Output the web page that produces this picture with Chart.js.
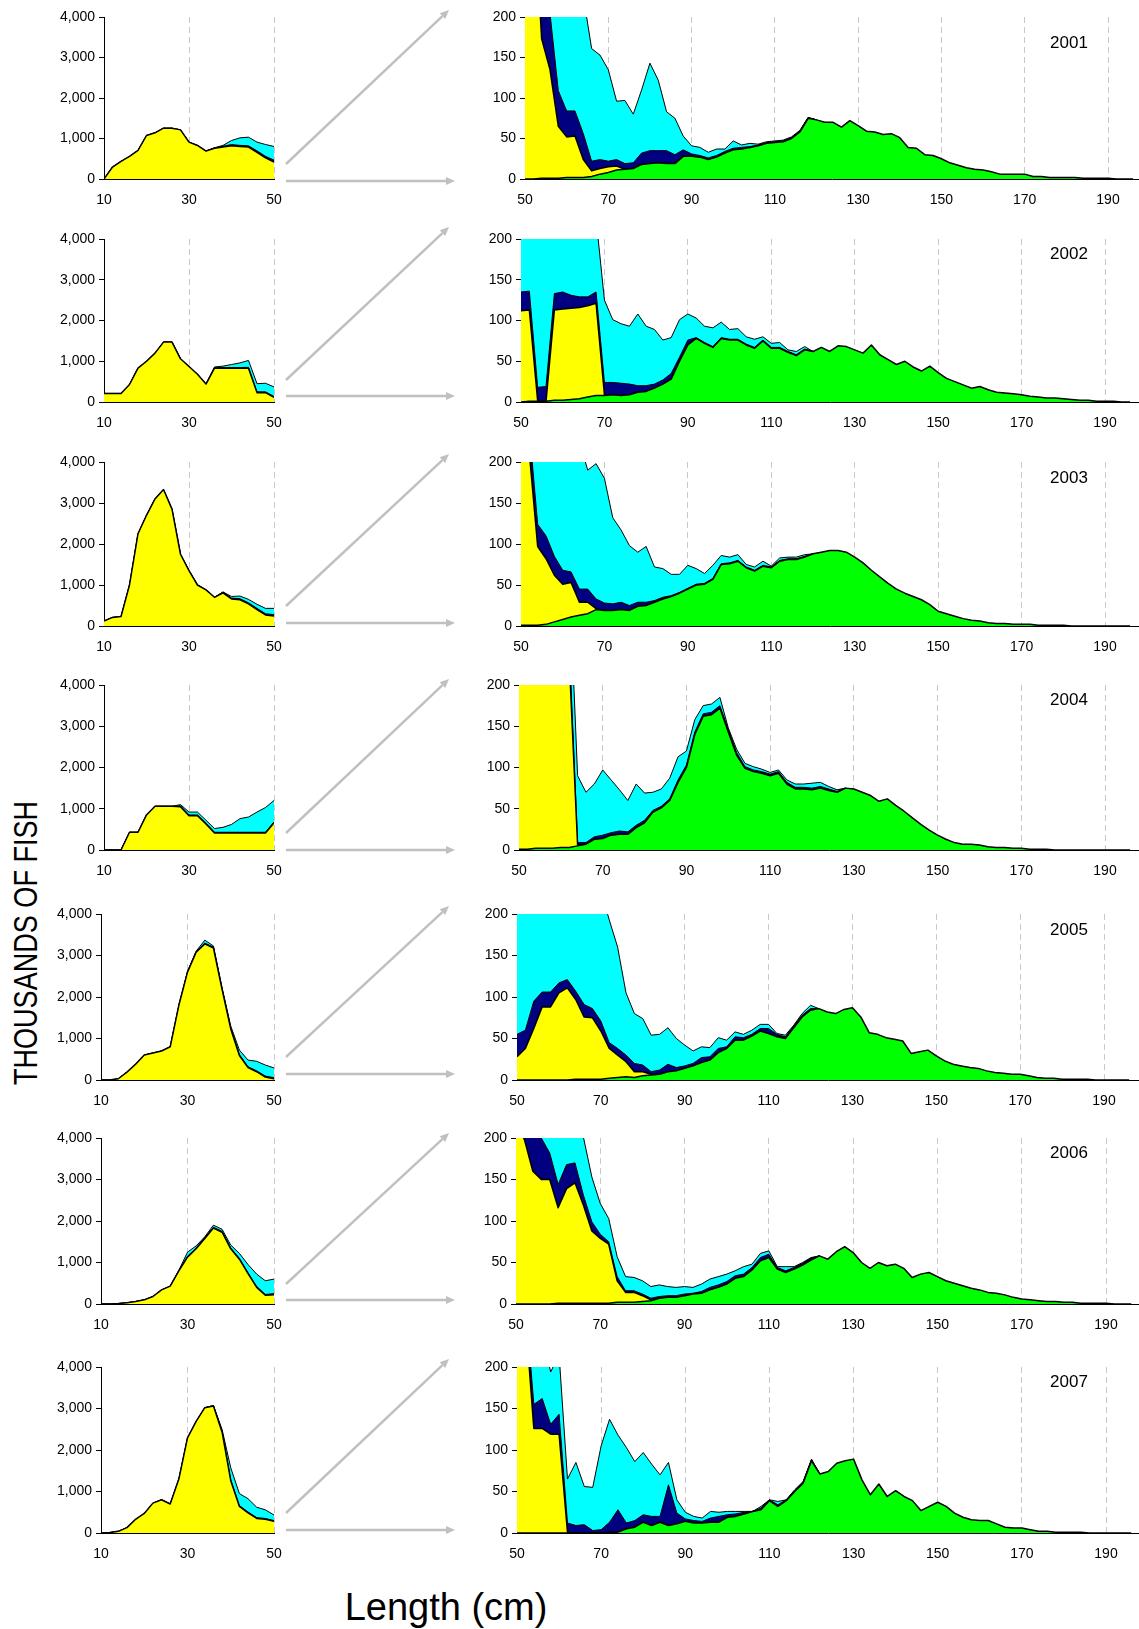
<!DOCTYPE html>
<html>
<head>
<meta charset="utf-8">
<title>Length frequency 2001-2007</title>
<script src="https://cdn.jsdelivr.net/npm/chart.js@4.4.1/dist/chart.umd.min.js"></script>
<style>
  body { margin: 0; background: #fff; }
  #page { position: relative; width: 1139px; height: 1629px; overflow: hidden; background: #fff;
          font-family: "Liberation Sans", Arial, sans-serif; color: #000; }
  #page canvas { position: absolute; }
  #arrows { position: absolute; left: 0; top: 0; }
  .year { position: absolute; font-size: 17px; line-height: 1; transform: translate(-50%, -50%); }
  #ytitle { position: absolute; left: 25px; top: 943px; font-size: 33px; line-height: 1; white-space: nowrap;
            transform: translate(-50%, -50%) rotate(-90deg) scaleX(0.82); }
  #xtitle { position: absolute; left: 446px; top: 1588px; font-size: 38px; line-height: 1; white-space: nowrap;
            transform: translateX(-50%); }
</style>
</head>
<body>
<div id="page">
  <svg id="arrows" width="1139" height="1629"></svg>
  <div id="ytitle">THOUSANDS OF FISH</div>
  <div id="xtitle">Length (cm)</div>
</div>
<script>
// ---- categories and ticks ----
const years = ['2001', '2002', '2003', '2004', '2005', '2006', '2007'];
const lenLeft = [10,12,14,16,18,20,22,24,26,28,30,32,34,36,38,40,42,44,46,48,50];
const lenRight = [50,52,54,56,58,60,62,64,66,68,70,72,74,76,78,80,82,84,86,88,
                  90,92,94,96,98,100,102,104,106,108,110,112,114,116,118,120,122,124,126,128,
                  130,132,134,136,138,140,142,144,146,148,150,152,154,156,158,160,162,164,166,168,
                  170,172,174,176,178,180,182,184,186,188,190,192,194,196];
const leftXTicks = [10, 30, 50];
const leftYTicks = [0, 1000, 2000, 3000, 4000];
const rightXTicks = [50, 70, 90, 110, 130, 150, 170, 190];
const rightYTicks = [0, 50, 100, 150, 200];

// ---- small fish, 10-50 cm (thousands) ----
const l01Yellow = [0,295,435,557,705,1074,1140,1254,1254,1213,910,828,690,760,790,820,800,790,660,520,420];
const l01Navy   = [0,0,0,0,0,0,0,0,0,0,0,0,0,10,20,30,30,30,35,40,45];
const l01Cyan   = [0,0,0,0,0,0,0,0,0,0,0,0,0,0,20,100,186,213,215,292,338];

const l02Yellow = [210,210,210,430,830,1000,1200,1470,1470,1060,870,680,440,830,830,830,830,830,230,230,112];
const l02Navy   = [0,0,0,0,0,0,0,0,0,0,0,0,0,10,15,15,15,20,20,20,23];
const l02Cyan   = [0,0,0,0,0,0,0,0,0,0,0,0,0,20,35,75,115,170,200,210,235];

const l03Yellow = [120,210,230,1000,2250,2700,3100,3330,2850,1750,1350,1000,880,700,810,660,640,540,400,270,245];
const l03Navy   = [0,0,0,0,0,0,0,0,0,0,0,0,0,0,20,20,25,25,30,30,30];
const l03Cyan   = [0,0,0,0,0,0,0,0,0,0,0,0,0,0,0,40,65,85,100,130,155];

const l04Yellow = [0,0,0,430,430,850,1060,1060,1060,1050,830,830,630,410,410,410,410,410,410,410,660];
const l04Navy   = [0,0,0,0,0,0,0,0,0,20,20,20,20,20,20,20,20,20,20,20,20];
const l04Cyan   = [0,0,0,0,0,0,0,0,0,30,70,70,70,90,120,190,330,370,490,600,520];

const l05Yellow = [0,0,30,190,380,600,650,700,800,1800,2600,3080,3280,3180,2180,1230,590,300,200,70,28];
const l05Navy   = [0,0,0,0,0,0,0,0,0,0,10,15,20,20,20,20,20,20,20,25,27];
const l05Cyan   = [0,0,0,0,0,0,0,0,0,0,0,10,70,30,20,50,110,160,230,265,235];

const l06Yellow = [0,0,10,30,60,100,180,340,430,800,1130,1330,1580,1830,1730,1330,1080,730,400,210,220];
const l06Navy   = [0,0,0,0,0,0,0,0,0,10,20,20,20,20,20,20,20,20,20,20,30];
const l06Cyan   = [0,0,0,0,0,0,0,0,0,0,100,50,20,50,50,70,120,200,300,330,350];

const l07Yellow = [0,10,40,130,330,470,720,800,700,1300,2290,2690,3020,3060,2430,1260,640,486,351,330,280];
const l07Navy   = [0,0,0,0,0,0,0,0,0,0,0,0,0,10,15,20,20,20,20,20,20];
const l07Cyan   = [0,0,0,0,0,0,0,0,0,0,0,0,0,0,50,290,290,320,250,208,134];

// ---- large fish, from 50 cm (thousands) ----
const r01Green  = [0,0,1,1,1,2,2,2,3,6, 8,11,12,13,18,19,20,19,19,28, 28,27,24,27,32,36,37,39,41,44,
                   45,46,50,58,75,73,70,70,64,72, 66,59,58,55,56,51,39,38,30,29, 25,20,17,14,12,11,9,6,6,6,
                   6,3,3,2,2,2,2,1,1,1, 1,0,0,0];
const r01Yellow = [420,352,172,134,64,50,51,22,7,7, 7,5,0,0,0,0,0,0,0,0, 0,0,0,0,0,0,0,0,0,0, 0,0,0,0,0,0];
const r01Navy   = [45,48,87,70,44,32,31,32,12,11, 7,8,7,7,14,16,15,16,11,8, 3,2,2,2,2,2,2,1,1,1, 1,1,1,1,1,0];
const r01Cyan   = [338,300,340,295,310,276,206,170,139,129, 113,72,78,60,78,108,87,48,45,17,
                   10,10,7,8,3,9,3,4,1,1, 1,1,1,1,0,0];

const r02Green  = [0,1,1,1,2,2,3,4,6,8, 8,9,8,9,12,13,17,22,28,50, 70,78,72,67,78,76,76,70,66,75,
                   66,66,61,57,64,62,67,62,69,68, 64,60,70,58,52,46,50,43,38,44, 36,29,25,21,17,19,15,12,11,10,
                   9,7,6,5,5,4,3,2,2,1, 1,1,0,0];
const r02Yellow = [112,112,0,0,111,112,112,112,112,113, 1,0,0,0,0,0,0,0,0,0, 0,0,0,0,0,0,0,0,0,0, 0,0,0,0,0,0];
const r02Navy   = [23,23,17,18,20,21,16,13,11,14, 15,15,15,13,8,7,5,5,7,5, 6,1,1,1,1,1,1,1,1,1, 1,1,1,1,1,0];
const r02Cyan   = [235,214,312,291,157,145,129,121,111,90, 101,77,73,71,88,73,67,49,44,46,
                   32,24,20,23,19,12,13,9,10,4, 5,6,2,4,3,0];

const r03Green  = [1,1,1,2,5,8,11,13,15,20, 19,19,20,19,24,25,29,33,36,40, 45,50,51,57,75,76,79,71,67,73,
                   71,79,81,81,84,88,90,92,92,90, 84,77,68,60,52,45,40,36,32,26, 18,15,12,9,7,6,4,3,3,2,
                   2,2,1,1,1,1,0,0,0,0, 0,0,0,0];
const r03Yellow = [244,210,96,80,57,43,42,16,14,1, 0,0,0,0,0,0,0,0,0,0, 0,0,0,0,0,0,0,0,0,0, 0,0,0,0,0,0];
const r03Navy   = [30,29,27,28,23,17,13,16,16,12, 9,8,9,6,5,4,2,2,1,1, 1,1,1,1,1,1,1,1,1,1, 1,1,1,1,1,0];
const r03Cyan   = [155,160,246,230,225,212,184,180,145,165, 152,105,88,73,61,68,41,35,26,22,
                   28,19,12,16,10,7,7,3,4,5, 1,3,2,2,2,0];

const r04Green  = [1,1,2,2,2,3,3,5,7,13, 14,18,19,19,27,33,46,51,60,82, 100,140,162,164,172,143,115,99,95,93,
                   90,93,80,74,74,73,75,72,70,75, 74,70,66,59,62,54,47,39,31,24, 18,13,9,7,7,6,4,3,3,2,
                   2,1,1,1,0,0,0,0,0,0, 0,0,0,0];
const r04Yellow = [660,600,500,450,400,330,228,1,0,0, 0,0,0,0,0,0,0,0,0,0, 0,0,0,0,0,0,0,0,0,0, 0,0,0,0,0,0,0,0,0,0];
const r04Navy   = [20,20,20,20,20,20,20,3,2,3, 4,3,4,3,3,3,2,2,2,3, 3,3,3,3,3,3,3,2,2,2, 2,2,2,2,2,2,2,2,1,0];
const r04Cyan   = [520,480,400,350,300,250,83,81,61,64, 79,64,50,38,50,33,22,21,25,28,
                   17,15,10,10,10,2,4,4,4,3, 2,2,3,4,4,6,5,3,2,0];

const r05Green  = [0,0,0,0,0,0,0,1,1,1, 1,2,3,4,3,5,6,7,10,11, 14,17,21,24,33,38,48,48,53,59,
                   56,52,50,63,76,84,86,82,80,85, 87,76,57,55,51,49,47,32,34,36, 29,23,19,17,15,14,11,9,8,7,
                   7,5,3,2,2,1,1,1,1,0, 0,0,0,0];
const r05Yellow = [28,38,62,88,88,105,111,96,75,74, 58,36,27,18,7,5,1,0,0,0, 0,0,0,0,0,0,0,0,0,0, 0,0,0,0,0,0,0];
const r05Navy   = [27,22,33,18,18,12,10,10,15,11, 12,7,8,8,10,8,3,5,9,4, 3,3,6,4,5,2,4,3,2,3, 6,3,2,2,2,2,0];
const r05Cyan   = [235,240,225,224,214,193,179,174,170,160, 157,148,122,75,60,56,44,43,44,35,
                   25,15,13,11,13,8,6,4,5,5, 5,1,2,1,2,4,0];

const r06Green  = [0,0,0,0,0,1,1,1,1,1, 1,1,2,2,2,3,4,7,8,8, 10,12,13,17,20,24,31,33,41,52,
                   56,42,38,42,47,53,58,54,63,69, 62,50,43,50,46,48,43,32,36,38, 33,28,25,22,19,17,14,13,11,8,
                   6,5,4,3,3,2,2,1,1,1, 1,0,0,0];
const r06Yellow = [220,198,160,150,150,115,138,145,118,87, 78,71,26,12,12,7,1,0,0,0, 0,0,0,0,0,0,0,0,0,0, 0,0,0,0,0,0,0];
const r06Navy   = [30,32,55,50,32,28,29,24,12,11, 5,3,5,2,2,2,2,2,2,2, 2,1,2,3,3,3,3,3,3,4, 4,2,2,2,2,2,0];
const r06Cyan   = [350,270,185,130,118,137,93,71,70,54, 37,28,24,17,16,16,14,14,11,10,
                   9,7,9,10,10,9,6,9,4,5, 4,1,5,1,1,1,0];

const r07Green  = [0,0,0,0,0,0,0,0,0,0, 0,1,1,5,7,13,9,13,9,11, 14,12,12,13,13,19,20,23,26,28,
                   39,32,39,50,60,87,71,74,84,87, 89,64,46,59,44,51,44,39,27,32, 37,32,24,19,16,15,15,11,7,6,
                   6,4,2,2,1,1,1,1,0,0, 0,0,0,0];
const r07Yellow = [280,261,126,126,119,119,1,0,0,0, 0,0,0,0,0,0,0,0,0,0, 0,0,0,0,0,0,0,0,0,0, 0,0,0,0,0,0,0];
const r07Navy   = [20,19,29,36,12,24,11,9,10,3, 4,12,27,7,8,9,11,7,49,13, 3,3,2,5,7,3,3,2,0,2, 1,2,1,1,1,1,0];
const r07Cyan   = [134,70,105,78,63,72,53,76,46,52, 101,124,90,91,71,75,63,50,27,16,
                   8,5,4,8,5,4,3,1,0,2, 0,4,0,1,1,1,0];

const leftSeries = [
  [l01Yellow, l01Navy, l01Cyan], [l02Yellow, l02Navy, l02Cyan], [l03Yellow, l03Navy, l03Cyan],
  [l04Yellow, l04Navy, l04Cyan], [l05Yellow, l05Navy, l05Cyan], [l06Yellow, l06Navy, l06Cyan],
  [l07Yellow, l07Navy, l07Cyan]
];
const rightSeries = [
  [r01Green, r01Yellow, r01Navy, r01Cyan], [r02Green, r02Yellow, r02Navy, r02Cyan],
  [r03Green, r03Yellow, r03Navy, r03Cyan], [r04Green, r04Yellow, r04Navy, r04Cyan],
  [r05Green, r05Yellow, r05Navy, r05Cyan], [r06Green, r06Yellow, r06Navy, r06Cyan],
  [r07Green, r07Yellow, r07Navy, r07Cyan]
];

// ---- page layout (pixels) ----
const rowTop = [17, 239, 462, 685, 914, 1138, 1367];
const rowH = [162, 163, 164, 165, 166, 166, 166];
const leftAxisX = [104, 104, 104, 104, 101, 101, 101];
const rightAxisX = [525, 521, 521, 519, 517, 516, 517];   // where 50 cm sits
const right190X = [1108, 1105, 1105, 1105, 1104, 1106, 1106];
const yearDy = [25, 14, 15, 14, 15, 14, 14];
const diagStartDy = [-15, -22, -20, -17, -23, -20, -20];  // from the zero line
const diagEndDy = [-7, -12, -8, -6, -8, -5, -8];          // from the top line
const flatDy = [2, -6, -3, 0, -6, -4, -3];                // from the zero line

const fillColor = { green: '#00ff00', yellow: '#ffff00', navy: '#000080', cyan: '#00ffff' };
const tickFont = { family: '"Liberation Sans", Arial, sans-serif', size: 14 };

function areaSets(xs, series, colors, widths) {
  return series.map((vals, i) => ({
    data: vals.map((v, k) => ({ x: xs[k], y: v })),
    backgroundColor: fillColor[colors[i]],
    borderColor: '#000',
    borderWidth: widths[i],
    borderJoinStyle: 'round',
    fill: i === 0 ? 'origin' : '-1',
    pointRadius: 0,
    tension: 0
  }));
}

function drawPanel(canvas, p) {
  return new Chart(canvas, {
    type: 'line',
    data: { datasets: p.datasets },
    options: {
      responsive: false,
      animation: false,
      devicePixelRatio: 1,
      layout: { autoPadding: false, padding: { top: 16, right: p.padRight, bottom: 0, left: 0 } },
      plugins: { legend: { display: false }, tooltip: { enabled: false } },
      scales: {
        x: {
          type: 'linear', min: p.xMin, max: p.xMax,
          afterBuildTicks: s => { s.ticks = p.xTicks.map(v => ({ value: v })); },
          afterFit: s => { s.height = 30; },
          grid: {
            drawTicks: false, lineWidth: 1,
            color: c => (c.tick && c.tick.value > p.xMin) ? '#c8c8c8' : 'rgba(0,0,0,0)'
          },
          border: { color: '#000', width: 1, dash: [6, 4] },
          ticks: { font: tickFont, color: '#000', padding: 13, autoSkip: false, maxRotation: 0,
                   callback: v => String(v) }
        },
        y: {
          type: 'linear', stacked: true, min: 0, max: p.yMax,
          afterBuildTicks: s => { s.ticks = p.yTicks.map(v => ({ value: v })); },
          afterFit: s => { s.width = p.yWidth; },
          grid: { drawOnChartArea: false, color: '#000', tickLength: 5 },
          border: { color: '#000', width: 1 },
          ticks: { font: tickFont, color: '#000', padding: 4, autoSkip: false,
                   callback: v => v.toLocaleString('en-US') }
        }
      }
    }
  });
}

const page = document.getElementById('page');
const svg = document.getElementById('arrows');
const NS = 'http://www.w3.org/2000/svg';

function arrow(x1, y1, x2, y2) {
  const a = Math.atan2(y2 - y1, x2 - x1);
  const hl = 9, hw = 4;
  const bx = x2 - hl * Math.cos(a), by = y2 - hl * Math.sin(a);
  const ln = document.createElementNS(NS, 'line');
  ln.setAttribute('x1', x1); ln.setAttribute('y1', y1);
  ln.setAttribute('x2', bx); ln.setAttribute('y2', by);
  ln.setAttribute('stroke', '#c0c0c0'); ln.setAttribute('stroke-width', '2.5');
  svg.appendChild(ln);
  const head = document.createElementNS(NS, 'polygon');
  const pts = [[x2, y2],
               [bx + hw * Math.sin(a), by - hw * Math.cos(a)],
               [bx - hw * Math.sin(a), by + hw * Math.cos(a)]];
  head.setAttribute('points', pts.map(q => q.join(',')).join(' '));
  head.setAttribute('fill', '#c0c0c0');
  svg.appendChild(head);
}

function makeCanvas(left, top, w, h) {
  const c = document.createElement('canvas');
  c.width = w; c.height = h;
  c.style.left = left + 'px'; c.style.top = top + 'px';
  c.style.width = w + 'px'; c.style.height = h + 'px';
  page.appendChild(c);
  return c;
}

years.forEach((yr, r) => {
  const T = rowTop[r], H = rowH[r], Z = T + H;

  // left panel: plot ends at x = 274 (canvas 296 wide, 22 px right pad)
  const lc = makeCanvas(0, T - 16, 296, H + 46);
  drawPanel(lc, {
    datasets: areaSets(lenLeft, leftSeries[r], ['yellow', 'navy', 'cyan'], [1.5, 1, 1]),
    xMin: 10, xMax: 50, xTicks: leftXTicks,
    yMax: 4000, yTicks: leftYTicks,
    yWidth: leftAxisX[r], padRight: 22
  });

  const pxPerCm = (right190X[r] - rightAxisX[r]) / 140;
  const rc = makeCanvas(440, T - 16, 699, H + 46);
  drawPanel(rc, {
    datasets: areaSets(lenRight, rightSeries[r], ['green', 'yellow', 'navy', 'cyan'], [1.5, 1.5, 1, 1]),
    xMin: 50, xMax: 50 + (1139 - rightAxisX[r]) / pxPerCm, xTicks: rightXTicks,
    yMax: 200, yTicks: rightYTicks,
    yWidth: rightAxisX[r] - 440, padRight: 0
  });

  const lab = document.createElement('div');
  lab.className = 'year';
  lab.textContent = yr;
  lab.style.left = '1069px';
  lab.style.top = (T + yearDy[r]) + 'px';
  page.appendChild(lab);

  arrow(286, Z + diagStartDy[r], 449, T + diagEndDy[r]);
  arrow(286, Z + flatDy[r], 455, Z + flatDy[r]);
});
page.appendChild(svg);
</script>
</body>
</html>
